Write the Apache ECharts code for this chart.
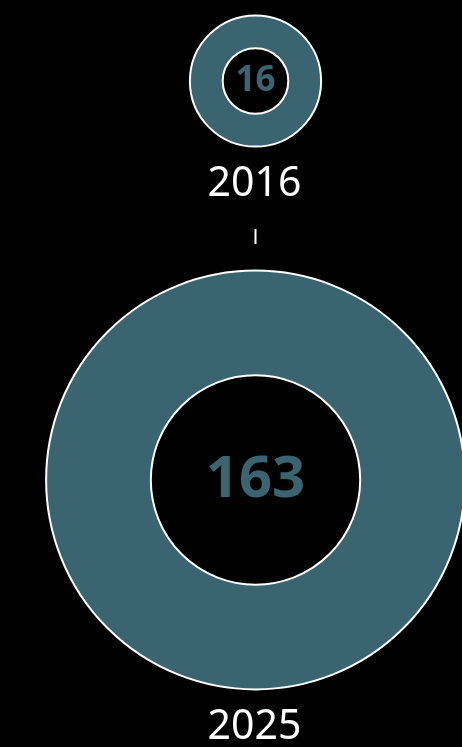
<!DOCTYPE html>
<html>
<head>
<meta charset="utf-8">
<script src="https://cdn.jsdelivr.net/npm/echarts@6/dist/echarts.min.js"></script>
<style>
	html, body { margin: 0; padding: 0; background: #000; }
	#chart { width: 462px; height: 747px; }
</style>
</head>
<body>
<div id="chart"></div>
<script>
	const years = ['2016', '2025'];
	const counts = [16, 163];
	const centersY = [81, 480];

	const teal = '#3a6470';
	const scale = 16.4; // px of radius per sqrt(count)

	const chart = echarts.init(document.getElementById('chart'));

	const series = counts.map((v, i) => {
		const r = scale * Math.sqrt(v);
		return {
			type: 'pie',
			center: [255.5, centersY[i]],
			radius: [r * 0.5, r],
			silent: true,
			startAngle: 90,
			itemStyle: {
				color: teal,
				borderColor: '#fff',
				borderWidth: 2
			},
			label: {
				show: true,
				position: 'center',
				formatter: String(v),
				color: teal,
				fontFamily: 'Noto Sans',
				fontWeight: 'bold',
				fontSize: i === 0 ? 35 : 58
			},
			labelLine: { show: false },
			data: [{ name: years[i], value: v }]
		};
	});

	const titles = counts.map((v, i) => {
		const r = scale * Math.sqrt(v);
		return {
			text: years[i],
			left: 249.5,
			textAlign: 'center',
			top: centersY[i] + r + 12,
			textStyle: {
				color: '#fff',
				fontFamily: 'Noto Sans',
				fontWeight: 'normal',
				fontSize: 41
			}
		};
	});

	chart.setOption({
		backgroundColor: '#000',
		animation: false,
		title: titles,
		graphic: [{
			type: 'line',
			shape: { x1: 255.5, y1: 229, x2: 255.5, y2: 244 },
			style: { stroke: '#fff', lineWidth: 2 }
		}],
		series: series
	});
</script>
</body>
</html>
